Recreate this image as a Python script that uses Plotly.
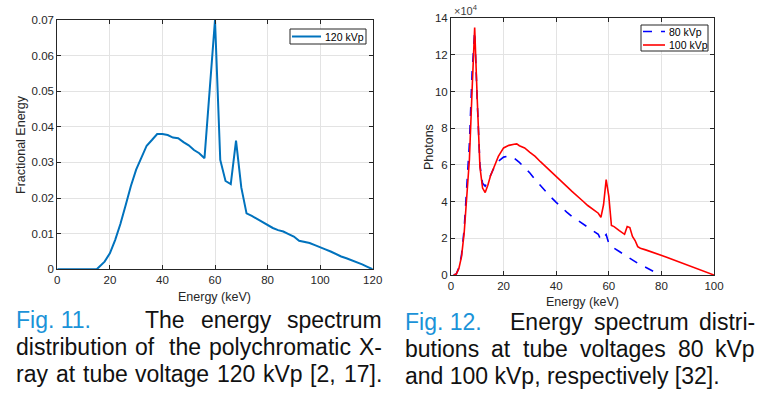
import plotly.graph_objects as go

# ---------------- data ----------------
e120 = [0, 15, 18, 20, 22, 24, 26, 28, 30, 32, 34, 36, 38, 40, 42, 44, 46, 48, 50, 52, 54, 56, 58, 60,
        62, 64, 66, 68, 70, 72, 74, 76, 78, 80, 82, 84, 86, 88, 90, 92, 94, 96, 98, 100, 102, 104, 106,
        108, 110, 112, 114, 116, 118, 120]
f120 = [0, 0, 0.00215, 0.0045, 0.0082, 0.0127, 0.018, 0.0234, 0.028, 0.0316, 0.0347, 0.0363, 0.038,
        0.038, 0.0377, 0.037, 0.0368, 0.0357, 0.0348, 0.0335, 0.0326, 0.0312, 0.05, 0.07,
        0.0307, 0.0248, 0.0239, 0.0361, 0.023, 0.0157, 0.015, 0.0141, 0.0134, 0.0124, 0.0116, 0.011,
        0.0106, 0.0099, 0.0092, 0.008, 0.0078, 0.0074, 0.0068, 0.0063, 0.0056, 0.005, 0.0042,
        0.0036, 0.0031, 0.0026, 0.0021, 0.0014, 0.0007, 0]

e100 = [1, 2, 3, 4, 5, 6, 7, 8, 9, 10, 11, 12, 13, 14, 15, 16, 17, 18, 20, 22, 24, 25, 26, 28, 30, 32,
        34, 36, 38, 40, 42, 44, 46, 48, 50, 52, 54, 56, 57, 58, 59, 60, 61, 62, 64, 66, 67, 68, 69, 70,
        71, 72, 74, 76, 78, 80, 82, 84, 86, 88, 90, 92, 94, 96, 98, 100]
p100 = [0, 0.05, 0.36, 1.0, 2.28, 4.1, 6.3, 10.0, 13.5, 9.5, 5.9, 4.74, 4.5, 4.9, 5.4, 5.75, 6.14,
        6.47, 6.93, 7.07, 7.13, 7.15, 7.05, 6.93, 6.69, 6.47, 6.18, 5.92, 5.65, 5.38, 5.1, 4.83, 4.56,
        4.28, 4.05, 3.79, 3.59, 3.37, 3.14, 3.83, 5.2, 4.3, 2.7, 2.64, 2.42, 2.22, 2.64, 2.59, 2.1,
        1.88, 1.55, 1.46, 1.37, 1.28, 1.15, 1.06, 0.97, 0.86, 0.75, 0.66, 0.55, 0.44, 0.35, 0.24,
        0.13, 0]

e80 = [1, 2, 3, 4, 5, 6, 7, 8, 9, 10, 11, 12, 13, 14, 15, 16, 18, 20, 22, 24, 26, 28, 30, 32, 34, 36,
       38, 40, 42, 44, 46, 48, 50, 52, 54, 56, 57, 59, 60, 62, 64, 66, 68, 70, 72, 74, 76, 78, 79]
p80 = [0, 0.05, 0.4, 1.1, 2.5, 4.6, 7.2, 11.0, 13.3, 9.4, 6.0, 5.0, 4.85, 5.1, 5.45, 5.75, 6.2, 6.43,
       6.5, 6.38, 6.14, 5.87, 5.56, 5.2, 4.87, 4.52, 4.25, 3.96, 3.68, 3.43, 3.19, 3.0, 2.77, 2.59,
       2.41, 2.22, 1.9, 2.2, 1.73, 1.46, 1.28, 1.09, 0.91, 0.73, 0.55, 0.42, 0.27, 0.13, 0.05]

scale = 1e4
x1_ticks = [0, 20, 40, 60, 80, 100, 120]
y1_ticks = [0, 0.01, 0.02, 0.03, 0.04, 0.05, 0.06, 0.07]
y1_labels = ["0", "0.01", "0.02", "0.03", "0.04", "0.05", "0.06", "0.07"]
x2_ticks = [0, 20, 40, 60, 80, 100]
y2_ticks = [0, 2, 4, 6, 8, 10, 12, 14]

# caption lines: list of segments (start_x or None, tokens, justify_to_right), blue prefix count
cap_left = [
    ([(None, ["Fig. 11."], False), (143, ["The", "energy", "spectrum"], True)], 1),
    ([(None, ["distribution", "of", "the", "polychromatic", "X-"], True)], 0),
    ([(None, ["ray", "at", "tube", "voltage", "120", "kVp", "[2,", "17]."], True)], 0),
]
cap_right = [
    ([(None, ["Fig. 12."], False), (508, ["Energy", "spectrum", "distri-"], True)], 1),
    ([(None, ["butions", "at", "tube", "voltages", "80", "kVp"], True)], 0),
    ([(None, ["and 100 kVp, respectively [32]."], False)], 0),
]

W, H = 764, 402
def px(x): return x / W
def py(y): return 1 - y / H

FONT = "Liberation Sans, Arial, Helvetica, sans-serif"
AX = "#262626"
GRID = "#e3e3e3"

# Arial / Liberation Sans advance widths (1/1000 em)
AW = {" ": 278, ".": 278, ",": 278, "-": 333, "[": 278, "]": 278,
      "a": 556, "b": 556, "c": 500, "d": 556, "e": 556, "g": 556, "h": 556, "i": 222, "k": 500,
      "l": 222, "m": 833, "n": 556, "o": 556, "p": 556, "r": 333, "s": 500, "t": 278, "u": 556,
      "v": 500, "y": 500, "E": 667, "F": 611, "T": 611, "V": 667, "X": 667}
def tw(s, size):
    return sum(AW.get(c, 556) for c in s) * size / 1000.0

fig = go.Figure()
fig.add_trace(go.Scatter(x=e120, y=f120, mode="lines", name="120 kVp", showlegend=False,
                         line=dict(color="#0072BD", width=2), xaxis="x", yaxis="y"))
fig.add_trace(go.Scatter(x=e80, y=[v * scale for v in p80], mode="lines", name="80 kVp", showlegend=False,
                         line=dict(color="#0000FF", width=1.6, dash="dash"), xaxis="x2", yaxis="y2"))
fig.add_trace(go.Scatter(x=e100, y=[v * scale for v in p100], mode="lines", name="100 kVp", showlegend=False,
                         line=dict(color="#FF0000", width=1.6), xaxis="x2", yaxis="y2"))

TICKF = 11.5
axcommon = dict(showline=True, linecolor=AX, linewidth=1, mirror="ticks", ticks="inside", ticklen=4,
                tickcolor=AX, showgrid=True, gridcolor=GRID, gridwidth=1, zeroline=False,
                automargin=False, tickfont=dict(family=FONT, size=TICKF, color=AX))

fig.update_layout(
    template="none",
    width=W, height=H, margin=dict(l=0, r=0, t=0, b=0, autoexpand=False),
    paper_bgcolor="white", plot_bgcolor="white",
    xaxis=dict(domain=[px(57.3), px(372.7)], range=[0, 120], tickvals=x1_ticks, anchor="y", **axcommon),
    yaxis=dict(domain=[py(269.3), py(20)], range=[0, 0.07], tickvals=y1_ticks, ticktext=y1_labels,
               anchor="x", **axcommon),
    xaxis2=dict(domain=[px(451), px(714)], range=[0, 100], tickvals=x2_ticks, anchor="y2", **axcommon),
    yaxis2=dict(domain=[py(275), py(18.3)], range=[0, 14 * scale], tickvals=[v * scale for v in y2_ticks],
                ticktext=[str(v) for v in y2_ticks], anchor="x2", **axcommon),
    showlegend=False,
)

ann = []
shapes = []
def label(text, x, y, size=11, angle=0, xanchor="center", color=AX):
    ann.append(dict(text=text, x=px(x), y=py(y), xref="paper", yref="paper", showarrow=False,
                    xanchor=xanchor, yanchor="middle", textangle=angle,
                    font=dict(family=FONT, size=size, color=color)))

# axis titles
TITF = 12.5
label("Fractional Energy", 21, 145, size=TITF, angle=-90)
label("Energy (keV)", 215, 297, size=TITF)
label("Photons", 429, 147, size=TITF, angle=-90)
label("Energy (keV)", 582.5, 302, size=TITF)
label("×10<sup>4</sup>", 452, 10, size=11, xanchor="left", color="#404040")

# legends (drawn as boxes with samples)
def legend_box(x0, y0, x1, y1):
    shapes.append(dict(type="rect", xref="paper", yref="paper", x0=px(x0), x1=px(x1), y0=py(y1), y1=py(y0),
                       line=dict(color=AX, width=1), fillcolor="white", layer="above"))
def legend_item(x0, x1, y, color, width, dash, text):
    shapes.append(dict(type="line", xref="paper", yref="paper", x0=px(x0), x1=px(x1), y0=py(y), y1=py(y),
                       line=dict(color=color, width=width, dash=dash), layer="above"))
    label(text, x1 + 2, y, size=10.5, xanchor="left", color="#000000")

legend_box(290, 29, 366, 44)
legend_item(292, 321, 36.5, "#0072BD", 2, "solid", "120 kVp")
legend_box(641, 25, 708, 51)
legend_item(643, 665, 31.5, "#0000FF", 1.6, "dash", "80 kVp")
legend_item(643, 665, 45, "#FF0000", 1.6, "solid", "100 kVp")

# captions (justified)
CAPF = 23
SP = tw(" ", CAPF)
def caption(lines, left, right, base0, step=27):
    for i, (segments, nblue) in enumerate(lines):
        base = base0 + i * step
        x = left
        k = 0
        for start, tokens, just in segments:
            if start is not None:
                x = start
            widths = [tw(t, CAPF) for t in tokens]
            if just and len(tokens) > 1:
                gap = (right - x - sum(widths)) / (len(tokens) - 1)
            else:
                gap = SP
            for t, w in zip(tokens, widths):
                label(t, x, base - 7, size=CAPF, xanchor="left",
                      color="#1b93d8" if k < nblue else "#111111")
                x += w + gap
                k += 1

caption(cap_left, 14, 380, 327)
caption(cap_right, 403, 753, 329)

fig.update_layout(annotations=ann, shapes=shapes)
fig.write_html("out.html", config={"displayModeBar": False, "staticPlot": True},
               post_script="document.body.style.margin='0px';document.body.style.overflow='hidden';")
